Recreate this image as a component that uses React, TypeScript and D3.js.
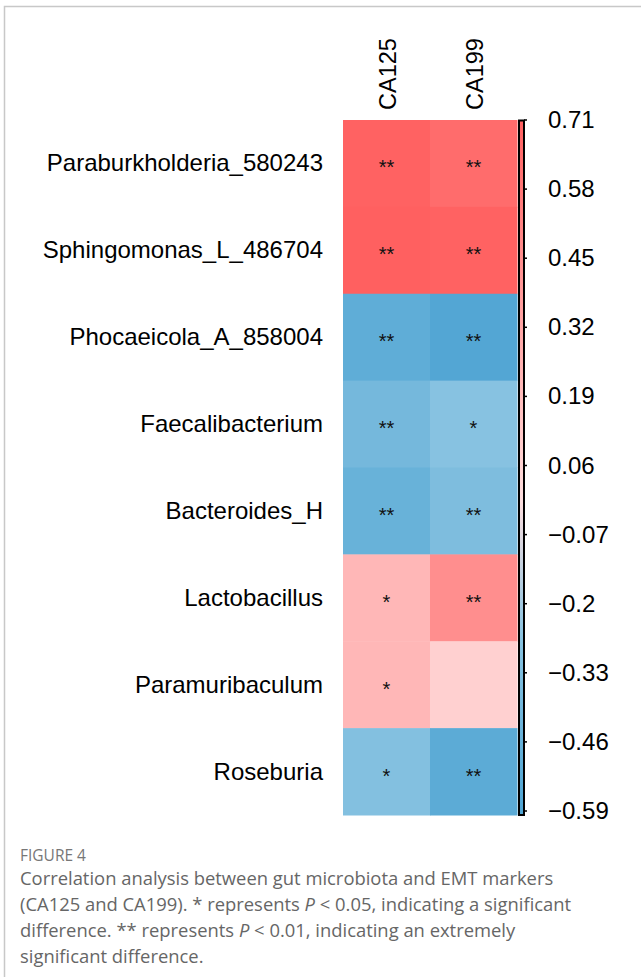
import React, { useEffect, useRef } from 'react';
import * as d3 from 'd3';

const width = 641,
      height = 977;

const taxa = [
    'Paraburkholderia_580243',
    'Sphingomonas_L_486704',
    'Phocaeicola_A_858004',
    'Faecalibacterium',
    'Bacteroides_H',
    'Lactobacillus',
    'Paramuribaculum',
    'Roseburia',
];
const markers = ['CA125', 'CA199'];

// correlation values
const ca125 = [0.70, 0.71, -0.50, -0.38, -0.45, 0.22, 0.22, -0.30];
const ca199 = [0.64, 0.70, -0.57, -0.28, -0.33, 0.45, 0.08, -0.52];
const sig125 = ['**', '**', '**', '**', '**', '*', '*', '*'];
const sig199 = ['**', '**', '**', '*', '**', '**', '', '**'];

const legendTicks = [0.71, 0.58, 0.45, 0.32, 0.19, 0.06, -0.07, -0.2, -0.33, -0.46, -0.59];

const captionLines = [
    'Correlation analysis between gut microbiota and EMT markers',
    '(CA125 and CA199). * represents |P| < 0.05, indicating a significant',
    'difference. ** represents |P| < 0.01, indicating an extremely',
    'significant difference.',
];

const App = () => {
    const ref = useRef<SVGSVGElement>(null);

    useEffect(() => {
        const svg = d3.select(ref.current);
        svg.html('');

        const values = [ca125, ca199];
        const sigs = [sig125, sig199];

        const color = d3.scaleLinear<string>()
            .domain([-0.59, -0.25, 0.0, 0.71])
            .range(['#4fa4d3', '#8cc5e2', '#ffdede', '#ff6060'])
            .clamp(true);

        const x = d3.scaleBand().domain(markers).range([343, 517]);
        const y = d3.scaleBand().domain(taxa).range([120, 815]);

        // frame
        svg.append('path')
            .attr('d', `M4.5,${height} L4.5,6.5 L${width},6.5`)
            .attr('fill', 'none')
            .attr('stroke', '#c8c8c8')
            .attr('stroke-width', 1.5);

        const cells: { m: string; t: string; v: number; s: string }[] = [];
        markers.forEach((m, j) => taxa.forEach((t, i) => cells.push({ m, t, v: values[j][i], s: sigs[j][i] })));

        const g = svg.append('g');
        g.selectAll('rect.cell')
            .data(cells).enter().append('rect')
            .attr('class', 'cell')
            .attr('x', d => x(d.m)!)
            .attr('y', d => y(d.t)!)
            .attr('width', x.bandwidth() + 0.5)
            .attr('height', y.bandwidth() + 0.5)
            .attr('fill', d => color(d.v));

        g.selectAll('text.sig')
            .data(cells).enter().append('text')
            .attr('class', 'sig')
            .attr('x', d => x(d.m)! + x.bandwidth() / 2)
            .attr('y', d => y(d.t)! + y.bandwidth() / 2 + 11)
            .attr('text-anchor', 'middle')
            .attr('font-family', 'Liberation Sans, Arial, sans-serif')
            .attr('font-size', 20)
            .attr('fill', '#111')
            .text(d => d.s);

        // row labels
        g.selectAll('text.row')
            .data(taxa).enter().append('text')
            .attr('class', 'row')
            .attr('x', 323)
            .attr('y', d => y(d)! + y.bandwidth() / 2 + 8)
            .attr('text-anchor', 'end')
            .attr('font-family', 'Liberation Sans, Arial, sans-serif')
            .attr('font-size', 24)
            .attr('fill', '#000')
            .text(d => d);

        // column labels
        g.selectAll('text.col')
            .data(markers).enter().append('text')
            .attr('class', 'col')
            .attr('transform', d => `translate(${x(d)! + x.bandwidth() / 2 + 9},110) rotate(-90)`)
            .attr('font-family', 'Liberation Sans, Arial, sans-serif')
            .attr('font-size', 23.5)
            .attr('fill', '#000')
            .text(d => d);

        // colour legend
        const ly = d3.scaleLinear().domain([0.71, -0.59]).range([120, 811]);
        const defs = svg.append('defs');
        const grad = defs.append('linearGradient')
            .attr('id', 'legendGrad')
            .attr('x1', 0).attr('y1', 0).attr('x2', 0).attr('y2', 1);
        const stops = d3.range(0, 1.0001, 0.05);
        grad.selectAll('stop')
            .data(stops).enter().append('stop')
            .attr('offset', d => d)
            .attr('stop-color', d => color(ly.invert(120 + d * 695)));

        svg.append('rect')
            .attr('x', 519)
            .attr('y', 120.5)
            .attr('width', 5)
            .attr('height', 694.5)
            .attr('fill', 'url(#legendGrad)')
            .attr('stroke', '#000')
            .attr('stroke-width', 2);

        const lg = svg.append('g');
        lg.selectAll('line')
            .data(legendTicks).enter().append('line')
            .attr('x1', 524).attr('x2', 527)
            .attr('y1', d => ly(d)).attr('y2', d => ly(d))
            .attr('stroke', '#000')
            .attr('stroke-width', 1.5);
        lg.selectAll('text')
            .data(legendTicks).enter().append('text')
            .attr('x', 548)
            .attr('y', d => ly(d) + 8)
            .attr('font-family', 'Liberation Sans, Arial, sans-serif')
            .attr('font-size', 24)
            .attr('fill', '#000')
            .text(d => d3.format('')(d).replace('-', '\u2212'));

        // caption
        const cap = svg.append('g')
            .attr('font-family', 'Open Sans, sans-serif')
            .attr('fill', '#666');
        cap.append('text')
            .attr('x', 20).attr('y', 861)
            .attr('font-size', 15.5)
            .attr('fill', '#777')
            .text('FIGURE 4');
        captionLines.forEach((line, i) => {
            const t = cap.append('text')
                .attr('x', 20)
                .attr('y', 885 + i * 26)
                .attr('font-size', 18.4);
            line.split('|').forEach((part, k) => {
                t.append('tspan')
                    .attr('font-style', k % 2 === 1 ? 'italic' : 'normal')
                    .text(part);
            });
        });
    }, []);

    return (
        <svg
            ref={ref}
            width={width}
            height={height}
            viewBox={`0 0 ${width} ${height}`}
            style={{ position: 'absolute', left: 0, top: 0, background: '#fff' }}
        />
    );
};

export default App;
